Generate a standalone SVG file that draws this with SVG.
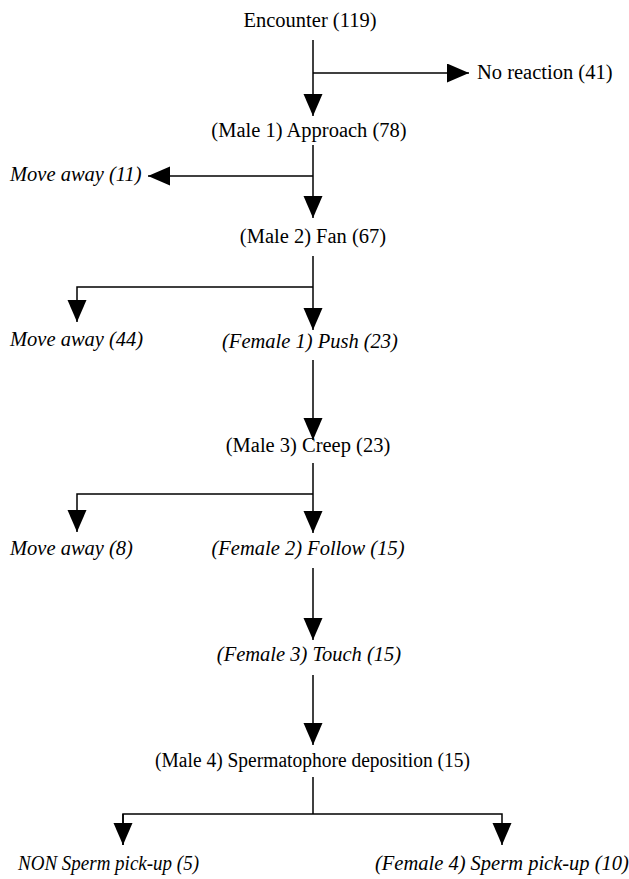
<svg xmlns="http://www.w3.org/2000/svg" width="629" height="879" viewBox="0 0 629 879">
<defs>
<marker id="ah" markerUnits="userSpaceOnUse" markerWidth="24" markerHeight="20" refX="22" refY="9.5" orient="auto">
<path d="M0,0 L22,9.5 L0,19 Z" fill="#000"/>
</marker>
</defs>
<style>
text{font-family:"Liberation Serif","Times New Roman",serif;font-size:20.5px;fill:#000}
.i{font-style:italic}
.c{stroke:#000;stroke-width:1.5;fill:none}
</style>
<rect width="629" height="879" fill="#fff"/>
<g id="connectors">
<line class="c" x1="313" y1="40" x2="313" y2="116" marker-end="url(#ah)"/>
<line class="c" x1="313" y1="73" x2="469" y2="73" marker-end="url(#ah)"/>
<line class="c" x1="313" y1="145" x2="313" y2="218" marker-end="url(#ah)"/>
<line class="c" x1="313" y1="176" x2="148" y2="176" marker-end="url(#ah)"/>
<line class="c" x1="313" y1="256" x2="313" y2="330" marker-end="url(#ah)"/>
<polyline class="c" points="313,287 77,287 77,322" marker-end="url(#ah)"/>
<line class="c" x1="313" y1="360" x2="313" y2="440" marker-end="url(#ah)"/>
<line class="c" x1="313" y1="463" x2="313" y2="533" marker-end="url(#ah)"/>
<polyline class="c" points="313,494 77,494 77,532" marker-end="url(#ah)"/>
<line class="c" x1="313" y1="568" x2="313" y2="640" marker-end="url(#ah)"/>
<line class="c" x1="313" y1="675" x2="313" y2="745" marker-end="url(#ah)"/>
<line class="c" x1="313" y1="777" x2="313" y2="814"/>
<polyline class="c" points="123,845 123,814 502,814 502,845" marker-end="url(#ah)"/>
<line class="c" x1="123" y1="814" x2="123" y2="845" marker-end="url(#ah)"/>
</g>
<g id="n1"><text x="310" y="27" text-anchor="middle">Encounter (119)</text></g>
<g id="n2"><text x="477" y="79">No reaction (41)</text></g>
<g id="n3"><text x="309" y="137" text-anchor="middle">(Male 1) Approach (78)</text></g>
<g id="n4"><text class="i" x="10" y="181">Move away (11)</text></g>
<g id="n5"><text x="313" y="243" text-anchor="middle">(Male 2) Fan (67)</text></g>
<g id="n6"><text class="i" x="10" y="346">Move away (44)</text></g>
<g id="n7"><text class="i" x="310" y="348" text-anchor="middle">(Female 1) Push (23)</text></g>
<g id="n8"><text x="308" y="452" text-anchor="middle">(Male 3) Creep (23)</text></g>
<g id="n9"><text class="i" x="10" y="555">Move away (8)</text></g>
<g id="n10"><text class="i" x="308" y="555" text-anchor="middle">(Female 2) Follow (15)</text></g>
<g id="n11"><text class="i" x="309" y="661" text-anchor="middle">(Female 3) Touch (15)</text></g>
<g id="n12"><text x="155" y="767" textLength="315" lengthAdjust="spacingAndGlyphs">(Male 4) Spermatophore deposition (15)</text></g>
<g id="n13"><text class="i" x="18" y="870" textLength="181" lengthAdjust="spacingAndGlyphs">NON Sperm pick-up (5)</text></g>
<g id="n14"><text class="i" x="375" y="870">(Female 4) Sperm pick-up (10)</text></g>
</svg>
